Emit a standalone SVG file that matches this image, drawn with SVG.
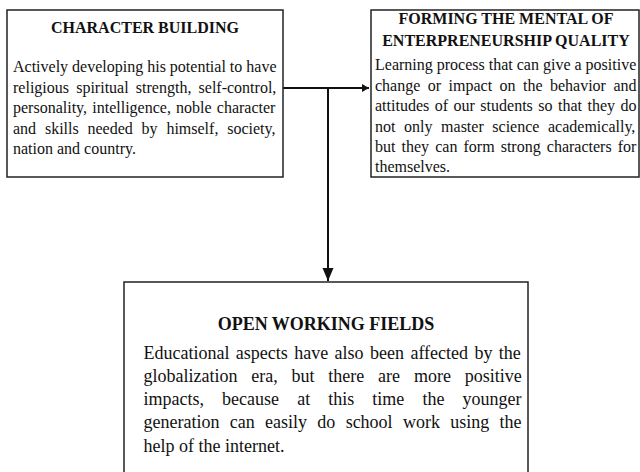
<svg xmlns="http://www.w3.org/2000/svg" width="640" height="472" viewBox="0 0 640 472">
<style>
.box{fill:#fff;stroke:#222;stroke-width:1.5}
.t{font-family:"Liberation Serif","Times New Roman",serif;fill:#111}
.h{font-weight:bold;text-anchor:middle}
.s16{font-size:16px}
.s18{font-size:18px}
.c{stroke:#111;stroke-width:2;fill:none}
</style>
<defs>
<marker id="ah" markerWidth="8" markerHeight="8" refX="7" refY="4" orient="auto" markerUnits="userSpaceOnUse"><path d="M0,0 L7,4 L0,8 Z" fill="#111"/></marker>
<marker id="av" markerWidth="14" markerHeight="12" refX="13" refY="6" orient="auto" markerUnits="userSpaceOnUse"><path d="M0,0.5 L13,6 L0,11.5 Z" fill="#111"/></marker>
</defs>
<rect width="640" height="472" fill="#fff"/>
<g id="connectors">
<path class="c" d="M283,88 H369" marker-end="url(#ah)"/>
<path class="c" d="M328,88 V281" marker-end="url(#av)"/>
</g>
<g id="character-building">
<rect class="box" x="7" y="10" width="276" height="167"/>
<text class="t h s16" x="145" y="33">CHARACTER BUILDING</text>
<text class="t s16" x="13" y="72">Actively developing his potential to have</text>
<text class="t s16" x="13" y="93" word-spacing="3.2">religious spiritual strength, self-control,</text>
<text class="t s16" x="13" y="113" word-spacing="1.2">personality, intelligence, noble character</text>
<text class="t s16" x="13" y="134" word-spacing="4.8">and skills needed by himself, society,</text>
<text class="t s16" x="13" y="154">nation and country.</text>
</g>
<g id="forming-mental">
<rect class="box" x="371" y="10" width="268" height="167"/>
<text class="t h s16" x="506" y="24">FORMING THE MENTAL OF</text>
<text class="t h s16" x="506" y="46">ENTERPRENEURSHIP QUALITY</text>
<text class="t s16" x="375" y="70">Learning process that can give a positive</text>
<text class="t s16" x="375" y="91" word-spacing="3.45">change or impact on the behavior and</text>
<text class="t s16" x="375" y="111" word-spacing="1.5">attitudes of our students so that they do</text>
<text class="t s16" x="375" y="132" word-spacing="4.6">not only master science academically,</text>
<text class="t s16" x="375" y="152" word-spacing="2.1">but they can form strong characters for</text>
<text class="t s16" x="375" y="172">themselves.</text>
</g>
<g id="open-working-fields">
<rect class="box" x="124" y="282" width="404" height="200"/>
<text class="t h s18" x="326" y="330">OPEN WORKING FIELDS</text>
<text class="t s18" x="143.5" y="359" word-spacing="1.9">Educational aspects have also been affected by the</text>
<text class="t s18" x="143.5" y="382" word-spacing="9.3">globalization era, but there are more positive</text>
<text class="t s18" x="143.5" y="405" word-spacing="13.6">impacts, because at this time the younger</text>
<text class="t s18" x="143.5" y="428" word-spacing="5.8">generation can easily do school work using the</text>
<text class="t s18" x="143.5" y="452">help of the internet.</text>
</g>
</svg>
